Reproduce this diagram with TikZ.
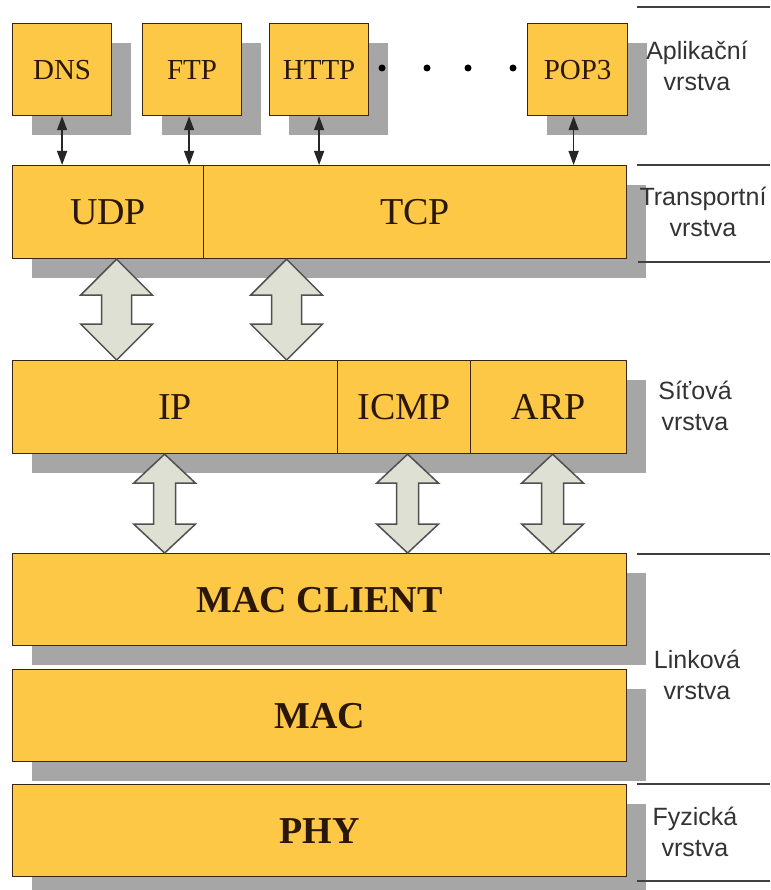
\documentclass[tikz,border=0pt]{standalone}
\usepackage{fontspec}
\setmainfont{Liberation Serif}
\newfontfamily\lsans{Liberation Sans}
\usetikzlibrary{calc,arrows.meta,shadows}
\definecolor{boxfill}{HTML}{FCC846}
\definecolor{shadowc}{HTML}{A6A6A6}
\definecolor{arrfill}{HTML}{DDE0D3}
\definecolor{arredge}{HTML}{505050}
\definecolor{boxedge}{HTML}{3A2412}
\definecolor{txt}{HTML}{2B1708}
\newcommand{\dblarrow}[5]{% top, bottom, half head, half shaft, head length
  \draw[bigarr] (#1) -- ++(#3,#5) -- ++(-#3+#4,0) -- ($(#2)+(#4,-#5)$) -- ++(#3-#4,0) -- (#2)
    -- ++(-#3,-#5) -- ++(#3-#4,0) -- ($(#1)+(-#4,#5)$) -- ++(-#3+#4,0) -- cycle;}
\begin{document}
\begin{tikzpicture}[x=1pt,y=-1pt,
  box/.style={draw=boxedge, line width=1.2pt, fill=boxfill, inner sep=0pt, anchor=north west, text=txt,
    drop shadow={shadow xshift=19pt, shadow yshift=-19pt, fill=shadowc, opacity=1}},
  protbox/.style={box, minimum width=99pt, minimum height=92pt, font=\fontsize{29}{34}\selectfont},
  layerbox/.style={box, minimum height=93pt, font=\fontsize{38}{44}\selectfont},
  boldbox/.style={box, minimum width=614pt, minimum height=92pt, font=\bfseries\fontsize{38}{44}\selectfont},
  smallarr/.style={{Triangle[width=10pt,length=14pt]}-{Triangle[width=10pt,length=14pt]}, line width=1.4pt, draw=black!85, fill=black!85},
  bigarr/.style={draw=arredge, line width=1.5pt, fill=arrfill, line join=miter},
  layerlabel/.style={font=\lsans\fontsize{25}{31}\selectfont, align=center, text=black!80},
  sepline/.style={draw=black!75, line width=1.5pt}
]
\useasboundingbox (0,0) rectangle (770,890);
\fill[white] (0,0) rectangle (770,890);

% application protocols
\node[protbox] (dns) at (12,23) {DNS};
\node[protbox] (ftp) at (142,23) {FTP};
\node[protbox] (http) at (269,23) {HTTP};
\node[protbox, minimum width=100pt] (pop) at (527,23) {POP3};

% transport
\node[layerbox, minimum width=191pt] (udp) at (12,165) {UDP};
\node[layerbox, minimum width=423pt] (tcp) at (203,165) {TCP};

% network
\node[layerbox, minimum width=325pt] (ip) at (12,360) {IP};
\node[layerbox, minimum width=133pt] (icmp) at (337,360) {ICMP};
\node[layerbox, minimum width=156pt] (arp) at (470,360) {ARP};

% link / physical
\node[boldbox] (macc) at (12,553) {MAC CLIENT};
\node[boldbox] (mac) at (12,669) {MAC};
\node[boldbox] (phy) at (12,784) {PHY};

% dots
\foreach \x in {382,427,468,513} \fill[black] (\x,68) circle[radius=3.5pt];

% small arrows
\draw[smallarr] (dns.south) -- (dns.south |- udp.north);
\draw[smallarr] ([xshift=-3pt]ftp.south) -- ([xshift=-3pt]ftp.south |- udp.north);
\draw[smallarr] (http.south) -- (http.south |- tcp.north);
\draw[smallarr] ([xshift=-4pt]pop.south) -- ([xshift=-4pt]pop.south |- tcp.north);

% big arrows transport <-> network
\coordinate (a1t) at ([xshift=8.5pt]udp.south);
\coordinate (a1b) at (a1t |- ip.north);
\coordinate (a2t) at ([xshift=-128.5pt]tcp.south);
\coordinate (a2b) at (a2t |- ip.north);
\dblarrow{a1t}{a1b}{36}{15}{36}
\dblarrow{a2t}{a2b}{36}{15}{36}

% big arrows network <-> link
\coordinate (b1t) at ([xshift=-10.5pt]ip.south);
\coordinate (b1b) at (b1t |- macc.north);
\coordinate (b2t) at ([xshift=3.5pt]icmp.south);
\coordinate (b2b) at (b2t |- macc.north);
\coordinate (b3t) at ([xshift=4pt]arp.south);
\coordinate (b3b) at (b3t |- macc.north);
\dblarrow{b1t}{b1b}{31}{11}{29}
\dblarrow{b2t}{b2b}{31}{11}{29}
\dblarrow{b3t}{b3b}{31}{11}{29}

% right labels and separators
\draw[sepline] (637,7) -- (770,7);
\draw[sepline] (637,165) -- (770,165);
\draw[sepline] (638,262) -- (770,262);
\draw[sepline] (637,554) -- (770,554);
\draw[sepline] (637,784) -- (770,784);
\draw[sepline] (637,881) -- (770,881);
\node[layerlabel] (lapp) at (697,66) {Aplikační\\vrstva};
\node[layerlabel] (ltrans) at (703,212) {Transportní\\vrstva};
\node[layerlabel] (lnet) at (695,406) {Síťová\\vrstva};
\node[layerlabel] (llink) at (697,675) {Linková\\vrstva};
\node[layerlabel] (lphys) at (695,832) {Fyzická\\vrstva};
\end{tikzpicture}
\end{document}
